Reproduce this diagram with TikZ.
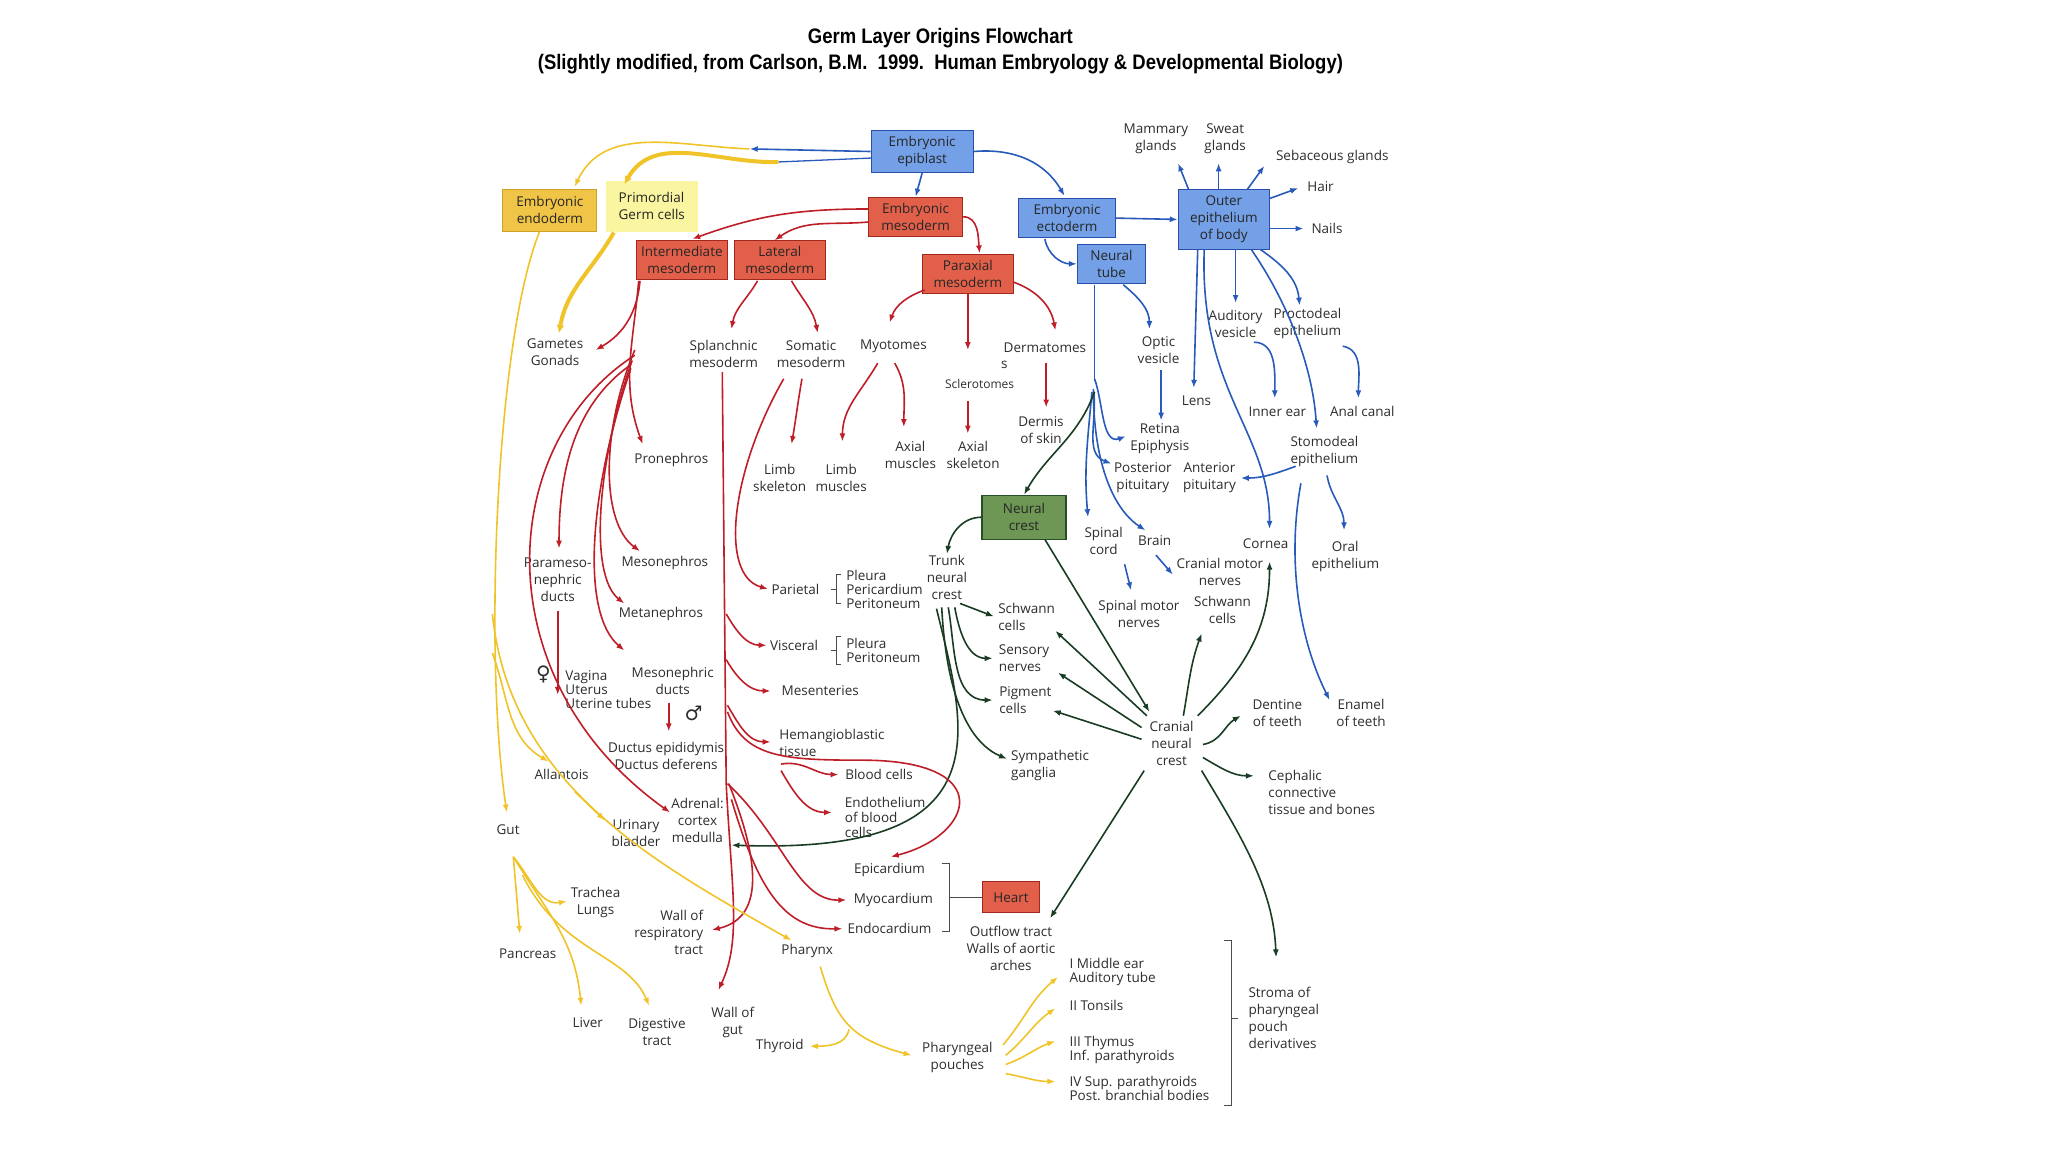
\documentclass[tikz,border=0pt]{standalone}
\usepackage{fontspec}
\setmainfont{Open Sans}
\newfontfamily\ttlfont{Liberation Sans}[FakeStretch=0.88]
\newfontfamily\symfnt{DejaVu Sans}
\usetikzlibrary{arrows.meta}
\definecolor{rl}{RGB}{190,30,40}
\definecolor{rf}{RGB}{226,96,74}
\definecolor{rb}{RGB}{160,40,30}
\definecolor{bl}{RGB}{40,90,185}
\definecolor{bf}{RGB}{115,160,230}
\definecolor{bb}{RGB}{40,80,170}
\definecolor{yl}{RGB}{240,195,40}
\definecolor{yf}{RGB}{240,196,70}
\definecolor{yb}{RGB}{210,160,40}
\definecolor{pf}{RGB}{250,245,160}
\definecolor{gl}{RGB}{25,60,35}
\definecolor{gf}{RGB}{110,150,85}
\definecolor{gb}{RGB}{40,80,40}
\definecolor{tx}{RGB}{45,45,45}
\begin{document}
\begin{tikzpicture}[x=1.306pt,y=-1.306pt,
  every node/.style={font=\fontsize{13.5}{17}\selectfont, text=tx, inner sep=1pt, align=center},
  box/.style={draw, line width=1.2pt, inner sep=2pt, text=black!85},
  rbox/.style={box, fill=rf, draw=rb, minimum width=91pt, minimum height=39pt},
  bbox/.style={box, fill=bf, draw=bb},
  arr/.style={line width=1.6pt, -{Latex[length=8pt,width=6pt]}},
  R/.style={arr, draw=rl}, B/.style={arr, draw=bl}, Y/.style={arr, draw=yl}, G/.style={arr, draw=gl},
  brk/.style={draw=black!70, line width=0.8pt}]
\useasboundingbox (0,0) rectangle (1568,882);
% title
\node[font=\ttlfont\bfseries\fontsize{21}{23}\selectfont, text=black] (t1) at (720,29) {Germ Layer Origins Flowchart};
\node[font=\ttlfont\bfseries\fontsize{21}{23}\selectfont, text=black] (t2) at (720,49) {(Slightly modified, from Carlson, B.M.\ \ 1999.\ \ Human Embryology \& Developmental Biology)};
% boxes
\node[bbox, minimum width=102pt, minimum height=42pt] (epi) at (706,116) {Embryonic\\epiblast};
\node[box, fill=yf, draw=yb, minimum width=94pt, minimum height=42pt] (endo) at (421,161) {Embryonic\\endoderm};
\node[box, fill=pf, draw=pf, minimum width=91pt, minimum height=50pt, align=left] (pgc) at (499,158) {Primordial\\Germ cells};
\node[rbox, minimum width=94pt] (meso) at (701,166) {Embryonic\\mesoderm};
\node[rbox] (inter) at (522,199) {Intermediate\\mesoderm};
\node[rbox] (lat) at (597,199) {Lateral\\mesoderm};
\node[rbox] (para) at (741,210) {Paraxial\\mesoderm};
\node[bbox, minimum width=97pt, minimum height=39pt] (ecto) at (817,167) {Embryonic\\ectoderm};
\node[bbox, minimum width=68pt, minimum height=39pt] (ntube) at (851,202) {Neural\\tube};
\node[bbox, minimum width=91pt, minimum height=60pt] (outer) at (937,168) {Outer\\epithelium\\of body};
\node[box, fill=gf, draw=gb, minimum width=84pt, minimum height=44pt] (ncrest) at (784,396) {Neural\\crest};
\node[box, fill=rf, draw=rb, minimum width=57pt, minimum height=31pt] (heart) at (774,687) {Heart};
% labels - ectoderm
\node (mam) at (885,106) {Mammary\\glands};
\node (swe) at (938,106) {Sweat\\glands};
\node (seb) at (1020,120) {Sebaceous glands};
\node (hair) at (1011,143) {Hair};
\node (nails) at (1016,175) {Nails};
\node (aud) at (946,248) {Auditory\\vesicle};
\node (proc) at (1001,248) {Proctodeal\\epithelium};
\node (opt) at (887,268) {Optic\\vesicle};
\node (lens) at (916,307) {Lens};
\node (iear) at (978,315) {Inner ear};
\node (anal) at (1043,315) {Anal canal};
\node (ret) at (888,336) {Retina\\Epiphysis};
\node (stom) at (1014,346) {Stomodeal\\epithelium};
\node (ppit) at (875,366) {Posterior\\pituitary};
\node (apit) at (926,366) {Anterior\\pituitary};
\node (scord) at (845,414) {Spinal\\cord};
\node (brain) at (884,414) {Brain};
\node (cornea) at (969,416) {Cornea};
\node (oral) at (1030,426) {Oral\\epithelium};
\node (cmn) at (934,438) {Cranial motor\\nerves};
\node (schr) at (936,467) {Schwann\\cells};
\node (smn) at (872,470) {Spinal motor\\nerves};
\node (cnc) at (897,569) {Cranial\\neural\\crest};
\node (dent) at (978,546) {Dentine\\of teeth};
\node (enam) at (1042,546) {Enamel\\of teeth};
\node[align=left] (ceph) at (1012,607) {Cephalic\\connective\\tissue and bones};
\node (tnc) at (725,442) {Trunk\\neural\\crest};
\node[align=left] (schl) at (786,472) {Schwann\\cells};
\node[align=left] (sens) at (784,504) {Sensory\\nerves};
\node[align=left] (pigm) at (785,536) {Pigment\\cells};
\node[align=left] (symp) at (804,586) {Sympathetic\\ganglia};
\node (outf) at (774,726) {Outflow tract\\Walls of aortic\\arches};
% mesoderm labels
\node (gam) at (425,270) {Gametes\\Gonads};
\node (splan) at (554,271) {Splanchnic\\mesoderm};
\node (soma) at (621,271) {Somatic\\mesoderm};
\node (myo) at (684,265) {Myotomes};
\node (derm) at (800,266) {Dermatomes};
\node (ds) at (769,279) {s};
\node[font=\fontsize{12}{14}\selectfont] (scl) at (750,294) {Sclerotomes};
\node (dskin) at (797,329) {Dermis\\of skin};
\node (axm) at (697,348) {Axial\\muscles};
\node (axs) at (745,348) {Axial\\skeleton};
\node (lsk) at (597,366) {Limb\\skeleton};
\node (lmu) at (644,366) {Limb\\muscles};
\node (pron) at (514,352) {Pronephros};
\node (param) at (427,444) {Parameso-\\nephric\\ducts};
\node (mesn) at (509,431) {Mesonephros};
\node (metn) at (506,470) {Metanephros};
\node (pari) at (609,451) {Parietal};
\node[align=left, anchor=west] (parL) at (647,451) {Pleura\\[-3pt]Pericardium\\[-3pt]Peritoneum};
\node (visc) at (608,494) {Visceral};
\node[align=left, anchor=west] (visL) at (647,498) {Pleura\\[-3pt]Peritoneum};
\node[font=\symfnt\fontsize{20}{20}\selectfont] (fem) at (416,516) {♀};
\node[align=left, anchor=west] (vag) at (432,528) {Vagina\\[-3pt]Uterus\\[-3pt]Uterine tubes};
\node (mesd) at (515,521) {Mesonephric\\ducts};
\node[font=\symfnt\fontsize{20}{20}\selectfont] (mal) at (531,546) {♂};
\node (duct) at (510,579) {Ductus epididymis\\Ductus deferens};
\node (ment) at (628,529) {Mesenteries};
\node[align=left] (hem) at (637,569) {Hemangioblastic\\tissue};
\node (bc) at (673,593) {Blood cells};
\node[align=left, anchor=west] (endb) at (646,626) {Endothelium\\[-2pt]of blood\\[-2pt]cells};
\node (adr) at (534,628) {Adrenal:\\cortex\\medulla};
\node (epic) at (681,666) {Epicardium};
\node (myoc) at (684,689) {Myocardium};
\node (endc) at (681,711) {Endocardium};
% endoderm labels
\node (alla) at (430,593) {Allantois};
\node (ubl) at (487,638) {Urinary\\bladder};
\node (gut) at (389,635) {Gut};
\node (trach) at (456,691) {Trachea\\Lungs};
\node[align=right] (wresp) at (512,714) {Wall of\\respiratory\\tract};
\node (phar) at (618,728) {Pharynx};
\node (panc) at (404,730) {Pancreas};
\node (liver) at (450,783) {Liver};
\node (dig) at (503,790) {Digestive\\tract};
\node (wgut) at (561,783) {Wall of\\gut};
\node (thy) at (597,801) {Thyroid};
\node (ppou) at (733,810) {Pharyngeal\\pouches};
\node[align=left, anchor=west] (p1) at (818,744) {I Middle ear\\[-3pt]Auditory tube};
\node[align=left, anchor=west] (p2) at (818,770) {II Tonsils};
\node[align=left, anchor=west] (p3) at (818,804) {III Thymus\\[-3pt]Inf. parathyroids};
\node[align=left, anchor=west] (p4) at (818,833) {IV Sup. parathyroids\\[-3pt]Post. branchial bodies};
\node[align=left, anchor=west] (strom) at (955,779) {Stroma of\\pharyngeal\\pouch\\derivatives};
% brackets
\draw[brk] (644,440) -- (640,440) -- (640,462) -- (644,462) (636,451) -- (640,451);
\draw[brk] (644,487) -- (640,487) -- (640,509) -- (644,509) (636,498) -- (640,498);
\draw[brk] (721,661) -- (727,661) -- (727,713) -- (721,713) (727,687) -- (heart.west);
\draw[brk] (937,720) -- (943,720) -- (943,846) -- (937,846) (943,780) -- (948,780);
% blue
\draw[B] (epi.west) -- (574,114);
\draw[draw=yl, line width=1.6pt, -{Latex[length=8pt,width=6pt]}] (574,114) to[out=178,in=65] (440,143);
\draw[draw=bl, line width=1.3pt] (667,121) -- (596,124);
\draw[draw=yl, line width=4pt, -{Latex[length=8pt,width=8pt]}] (596,124) to[out=182,in=60] (478,141);
\draw[B] (epi.south) -- (meso.north);
\draw[B] (epi.east) to[out=5,in=120] (815,150);
\draw[B] (ecto.east) -- (outer.west);
\draw[B] (800,183) to[out=-80,in=180] (ntube.west);
\draw[B] (910,145) -- (902,125);
\draw[B] (933,145) -- (933,125);
\draw[B] (955,145) -- (968,127);
\draw[B] (972,152) -- (994,144);
\draw[B] (972,175) -- (998,175);
\draw[B] (946,191) -- (946,232);
\draw[B] (965,191) to[out=-35,in=95] (995,234);
\draw[B] (917,191) -- (914,297);
\draw[B] (922,191) .. controls (918,300) and (972,330) .. (972,405);
\draw[B] (958,191) .. controls (985,230) and (1005,280) .. (1008,328);
\draw[B] (960,262) to[out=0,in=90] (976,305);
\draw[B] (1028,265) to[out=-10,in=90] (1040,305);
\draw[B] (992,357) to[out=200,in=0] (950,366);
\draw[B] (1016,364) to[out=-80,in=90] (1029,406);
\draw[B] (996,370) .. controls (985,430) and (995,490) .. (1018,536);
\draw[B] (860,218) to[out=-40,in=90] (880,252);
\draw[B] (889,283) -- (889,322);
\draw[line width=1.6pt, draw=bl] (838,218) -- (838,292);
\draw[B] (838,290) to[out=-70,in=200] (862,334);
\draw[B] (837,298) to[out=-80,in=160] (851,355);
\draw[B] (836,300) to[out=-95,in=95] (833,396);
\draw[B] (837,300) .. controls (838,370) and (860,395) .. (877,406);
\draw[B] (861,432) -- (866,452);
\draw[B] (885,425) -- (898,440);
% green
\draw[G] (838,300) to[out=-110,in=60] (ncrest.north);
\draw[G] (ncrest.west) to[out=180,in=80] (tnc.north);
\draw[G] (800,413) -- (880,545);
\draw[G] (735,462) -- (761,472);
\draw[G] (731,465) to[out=-80,in=180] (760,504);
\draw[G] (726,465) to[out=-80,in=180] (760,536);
\draw[G] (721,465) .. controls (725,540) and (745,570) .. (771,581);
\draw[G] (717,466) .. controls (740,560) and (770,655) .. (560,647);
\draw[G] (878,548) -- (808,483);
\draw[G] (874,557) -- (810,515);
\draw[G] (874,566) -- (806,544);
\draw[G] (906,548) to[out=80,in=-110] (920,485);
\draw[G] (917,548) to[out=45,in=-90] (972,430);
\draw[G] (921,570) to[out=10,in=210] (950,548);
\draw[G] (921,580) to[out=-30,in=180] (960,594);
\draw[G] (920,590) .. controls (950,640) and (975,680) .. (977,733);
\draw[G] (876,590) -- (804,703);
% red
\draw[R] (meso.west) ++(0,-6) to[out=180,in=20] (530,183);
\draw[R] (meso.west) ++(0,4) to[out=185,in=35] (593,184);
\draw[R] (meso.east) to[out=0,in=95] (750,194);
\draw[R] (490,215) to[out=-95,in=30] (456,268);
\draw[R] (489,215) to[out=-95,in=110] (492,340);
\draw[R] (486,268) .. controls (460,330) and (460,400) .. (490,422);
\draw[R] (484,276) .. controls (458,350) and (450,440) .. (478,462);
\draw[R] (483,282) .. controls (450,380) and (445,470) .. (478,498);
\draw[R] (482,280) .. controls (440,310) and (428,360) .. (428,420);
\draw[R] (486,272) .. controls (380,340) and (370,520) .. (513,622);
\draw[R] (427,468) -- (427,532);
\draw[R] (512,538) -- (512,560);
\draw[R] (580,215) to[out=-120,in=80] (560,252);
\draw[R] (606,215) to[out=-60,in=100] (626,255);
\draw[R] (614,290) to[out=-100,in=80] (606,340);
\draw[R] (600,290) .. controls (560,360) and (550,440) .. (588,451);
\draw[R] (672,278) to[out=-120,in=90] (645,338);
\draw[R] (685,278) to[out=-60,in=90] (692,327);
\draw[R] (708,222) to[out=200,in=70] (681,247);
\draw[R] (para.south) -- (741,268);
\draw[R] (776,216) to[out=-20,in=100] (808,253);
\draw[R] (741,307) -- (741,332);
\draw[R] (801,278) -- (801,312);
\draw[R] (553,285) -- (556,600) .. controls (560,680) and (568,720) .. (550,758);
\draw[R] (556,470) to[out=-60,in=180] (587,494);
\draw[R] (556,505) to[out=-60,in=180] (590,529);
\draw[R] (557,540) to[out=-60,in=180] (590,568);
\draw[R] (557,545) .. controls (570,580) and (600,582) .. (660,582) .. controls (765,582) and (745,640) .. (682,656);
\draw[R] (557,600) .. controls (600,640) and (610,690) .. (648,689);
\draw[R] (560,612) .. controls (580,680) and (600,712) .. (645,711);
\draw[R] (558,600) .. controls (590,680) and (575,705) .. (545,712);
\draw[R] (598,585) to[out=10,in=180] (642,593);
\draw[R] (598,590) to[out=-60,in=180] (637,622);
% yellow
\draw[draw=yl, line width=4pt, -{Latex[length=8pt,width=8pt]}] (470,178) to[out=240,in=80] (428,255);
\draw[Y] (endo.south) ++(-8,0) .. controls (380,260) and (370,500) .. (388,622);
\draw[Y] (377,500) to[out=-70,in=150] (420,583);
\draw[Y] (377,470) .. controls (390,600) and (500,660) .. (606,720);
\draw[Y] (440,606) -- (463,628);
\draw[Y] (393,656) to[out=-50,in=190] (434,690);
\draw[Y] (393,656) -- (398,715);
\draw[Y] (393,656) .. controls (420,700) and (440,720) .. (445,770);
\draw[Y] (400,670) .. controls (430,730) and (480,730) .. (497,770);
\draw[Y] (628,740) .. controls (640,780) and (650,795) .. (698,808);
\draw[Y] (650,788) to[out=-100,in=0] (620,801);
\draw[Y] (768,800) to[out=50,in=220] (810,748);
\draw[Y] (770,808) to[out=40,in=215] (808,772);
\draw[Y] (770,815) to[out=20,in=200] (808,797);
\draw[Y] (770,822) to[out=-10,in=180] (808,828);
\end{tikzpicture}
\end{document}
